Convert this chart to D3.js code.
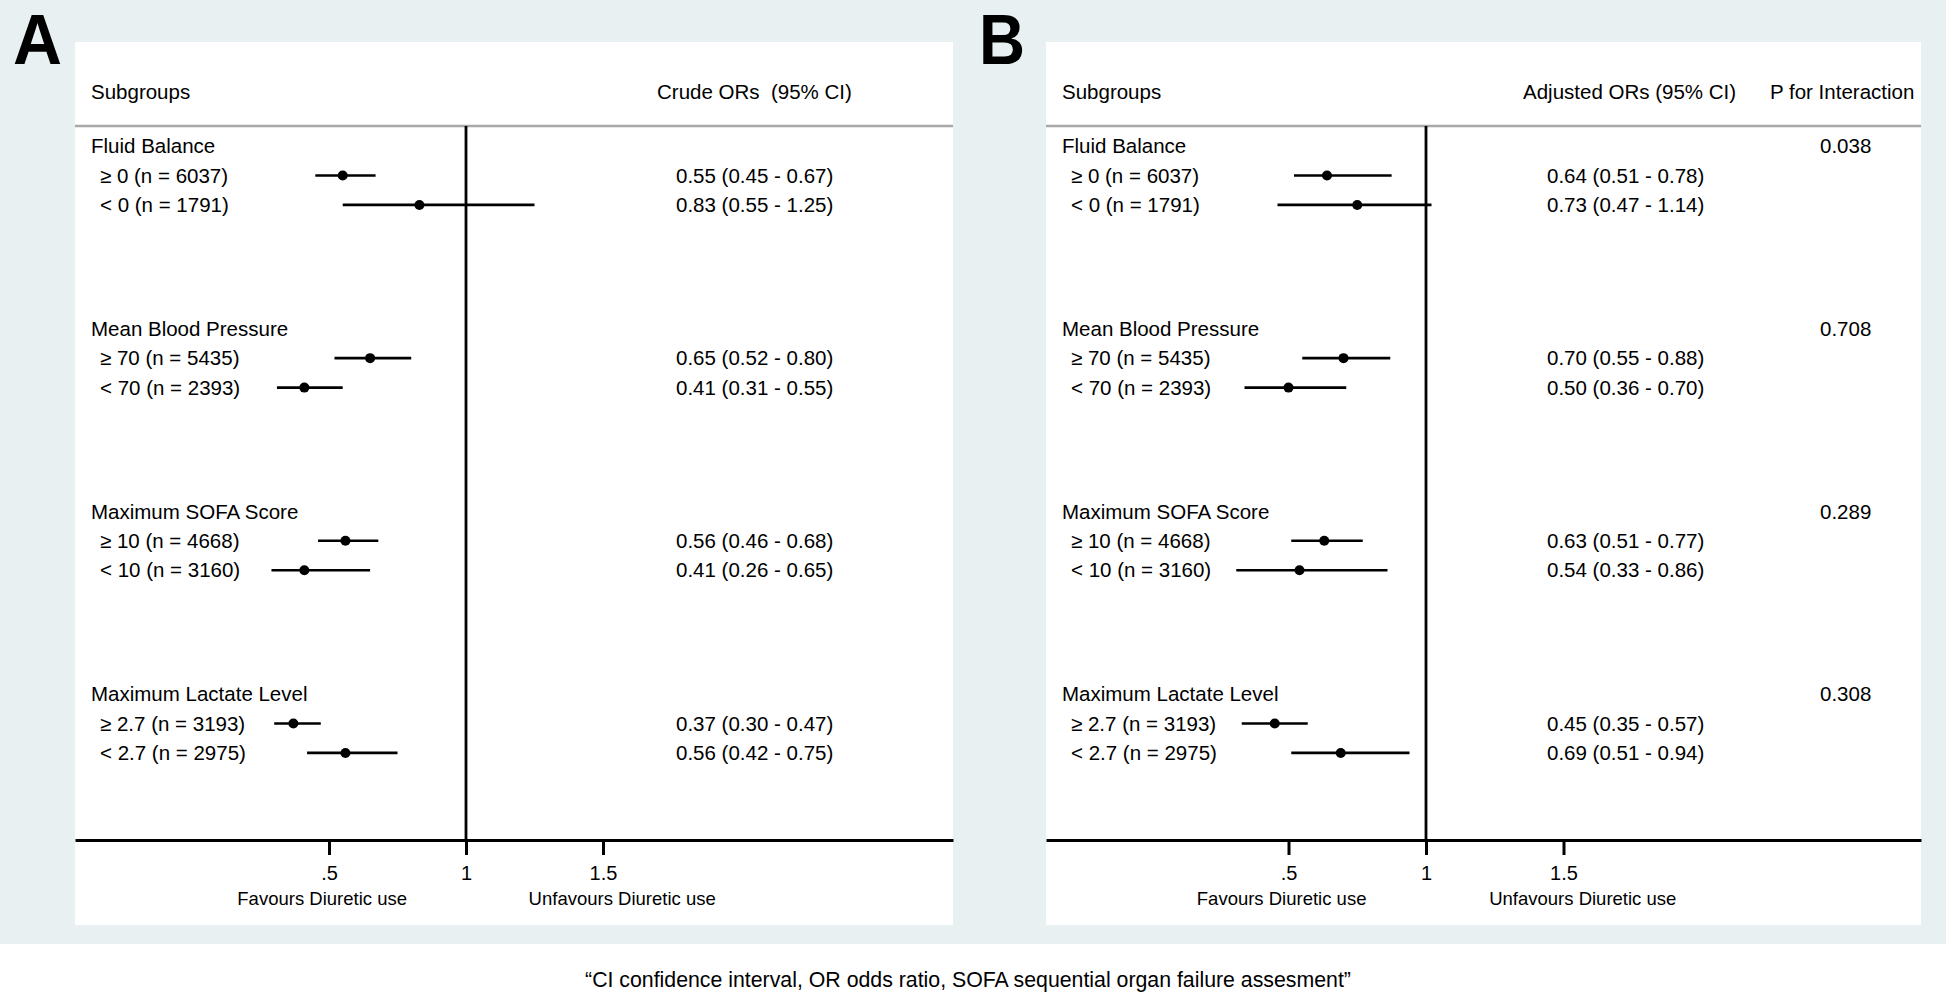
<!DOCTYPE html>
<html>
<head>
<meta charset="utf-8">
<script src="https://cdn.jsdelivr.net/npm/d3@7"></script>
<style>
body { margin: 0; background: #fff; }
text { font-family: "Liberation Sans", Arial, Helvetica, sans-serif; fill: #000; }
</style>
</head>
<body>
<svg id="chart" width="1946" height="994"></svg>
<script>
// Forest plot of diuretic use by subgroup, crude (A) and adjusted (B)

var groups = ["Fluid Balance", "Mean Blood Pressure", "Maximum SOFA Score", "Maximum Lactate Level"];
var subgroups = ["\u2265 0 (n = 6037)", "< 0 (n = 1791)",
	"\u2265 70 (n = 5435)", "< 70 (n = 2393)",
	"\u2265 10 (n = 4668)", "< 10 (n = 3160)",
	"\u2265 2.7 (n = 3193)", "< 2.7 (n = 2975)"];

// panel A - crude ORs (as drawn)
var crudeOR = [0.55, 0.83, 0.65, 0.41, 0.56, 0.41, 0.37, 0.56];
var crudeLow = [0.45, 0.55, 0.52, 0.31, 0.46, 0.29, 0.30, 0.42];
var crudeHigh = [0.67, 1.25, 0.80, 0.55, 0.68, 0.65, 0.47, 0.75];
var crudeText = ["0.55 (0.45 - 0.67)", "0.83 (0.55 - 1.25)",
	"0.65 (0.52 - 0.80)", "0.41 (0.31 - 0.55)",
	"0.56 (0.46 - 0.68)", "0.41 (0.26 - 0.65)",
	"0.37 (0.30 - 0.47)", "0.56 (0.42 - 0.75)"];

// panel B - adjusted ORs (as drawn)
var adjOR = [0.64, 0.75, 0.70, 0.50, 0.63, 0.54, 0.45, 0.69];
var adjLow = [0.52, 0.46, 0.55, 0.34, 0.51, 0.31, 0.33, 0.51];
var adjHigh = [0.875, 1.02, 0.87, 0.71, 0.77, 0.86, 0.57, 0.94];
var adjText = ["0.64 (0.51 - 0.78)", "0.73 (0.47 - 1.14)",
	"0.70 (0.55 - 0.88)", "0.50 (0.36 - 0.70)",
	"0.63 (0.51 - 0.77)", "0.54 (0.33 - 0.86)",
	"0.45 (0.35 - 0.57)", "0.69 (0.51 - 0.94)"];
var pInteraction = ["0.038", "0.708", "0.289", "0.308"];

var xTicks = [0.5, 1, 1.5];

var svg = d3.select("#chart");

svg.append("rect")
	.attr("x", 0).attr("y", 0)
	.attr("width", 1946).attr("height", 944)
	.attr("fill", "#e8f0f2");

var panelTop = 42, panelBottom = 925;
var headerY = 92, ruleY = 126, axisY = 840;
var groupStep = 6.2;
var rowY = d3.scaleLinear().domain([0, 18.6]).range([146, 694]);

function drawPanel(p) {
	var g = svg.append("g");

	g.append("rect")
		.attr("x", p.left).attr("y", panelTop)
		.attr("width", p.right - p.left).attr("height", panelBottom - panelTop)
		.attr("fill", "#fff");

	g.append("text")
		.attr("x", p.letterX).attr("y", 64)
		.attr("font-size", 70).attr("font-weight", "bold")
		.attr("textLength", p.letterW).attr("lengthAdjust", "spacingAndGlyphs")
		.text(p.letter);

	var x = d3.scaleLinear()
		.domain([(p.left - p.nullX) / p.unit + 1, (p.right - p.nullX) / p.unit + 1])
		.range([p.left, p.right]);

	// header
	g.append("text").attr("x", p.left + 16).attr("y", headerY).attr("dy", "0.35em")
		.attr("font-size", 20.5).text("Subgroups");
	g.append("text").attr("x", p.estHeadX).attr("y", headerY).attr("dy", "0.35em")
		.attr("font-size", 20.5).attr("xml:space", "preserve").text(p.estHead);
	if (p.pvals) {
		g.append("text").attr("x", p.pHeadX).attr("y", headerY).attr("dy", "0.35em")
			.attr("font-size", 20.5).text("P for Interaction");
	}

	g.append("line")
		.attr("x1", p.left).attr("x2", p.right)
		.attr("y1", ruleY).attr("y2", ruleY)
		.attr("stroke", "#a8a8a8").attr("stroke-width", 2.5);

	// null line
	g.append("line")
		.attr("x1", x(1)).attr("x2", x(1))
		.attr("y1", ruleY).attr("y2", axisY)
		.attr("stroke", "#000").attr("stroke-width", 2.8);

	// axis
	var axis = g.append("g")
		.attr("transform", "translate(0," + axisY + ")")
		.call(d3.axisBottom(x).tickValues(xTicks).tickSize(15).tickSizeOuter(0).tickPadding(11)
			.tickFormat(function(d) { return String(d).replace(/^0/, ""); }));
	axis.select(".domain").attr("stroke", "#000").attr("stroke-width", 3);
	axis.selectAll(".tick line").attr("stroke", "#000").attr("stroke-width", 3);
	axis.selectAll(".tick text")
		.attr("font-size", 20).attr("font-family", "Liberation Sans, Arial, sans-serif").attr("fill", "#000");

	g.append("text").attr("x", x(0.475)).attr("y", 905).attr("text-anchor", "middle")
		.attr("font-size", 18.5).text("Favours Diuretic use");
	g.append("text").attr("x", x(1.57)).attr("y", 905).attr("text-anchor", "middle")
		.attr("font-size", 18.5).text("Unfavours Diuretic use");

	// rows
	groups.forEach(function(name, gi) {
		var r0 = gi * groupStep;
		g.append("text").attr("x", p.left + 16).attr("y", rowY(r0)).attr("dy", "0.35em")
			.attr("font-size", 20.5).text(name);
		if (p.pvals) {
			g.append("text").attr("x", p.pX).attr("y", rowY(r0)).attr("dy", "0.35em")
				.attr("font-size", 20.5).text(p.pvals[gi]);
		}
		[0, 1].forEach(function(k) {
			var i = gi * 2 + k;
			var y = rowY(r0 + k + 1);
			g.append("text").attr("x", p.left + 25).attr("y", y).attr("dy", "0.35em")
				.attr("font-size", 20.5).text(subgroups[i]);
			g.append("line")
				.attr("x1", x(p.low[i])).attr("x2", x(p.high[i]))
				.attr("y1", y).attr("y2", y)
				.attr("stroke", "#000").attr("stroke-width", 2.6);
			g.append("circle")
				.attr("cx", x(p.or[i])).attr("cy", y).attr("r", 5)
				.attr("fill", "#000");
			g.append("text").attr("x", p.estX).attr("y", y).attr("dy", "0.35em")
				.attr("font-size", 20.5).text(p.text[i]);
		});
	});
}

drawPanel({
	left: 75, right: 953, nullX: 466, unit: 274,
	letter: "A", letterX: 13, letterW: 49,
	estHead: "Crude ORs  (95% CI)", estHeadX: 657, estX: 676,
	or: crudeOR, low: crudeLow, high: crudeHigh, text: crudeText
});

drawPanel({
	left: 1046, right: 1921, nullX: 1426, unit: 275,
	letter: "B", letterX: 979, letterW: 46,
	estHead: "Adjusted ORs (95% CI)", estHeadX: 1523, estX: 1547,
	pHeadX: 1770, pX: 1820, pvals: pInteraction,
	or: adjOR, low: adjLow, high: adjHigh, text: adjText
});

svg.append("text")
	.attr("x", 968).attr("y", 987)
	.attr("text-anchor", "middle")
	.attr("font-size", 21.3)
	.text("\u201CCI confidence interval, OR odds ratio, SOFA sequential organ failure assesment\u201D");
</script>
</body>
</html>
